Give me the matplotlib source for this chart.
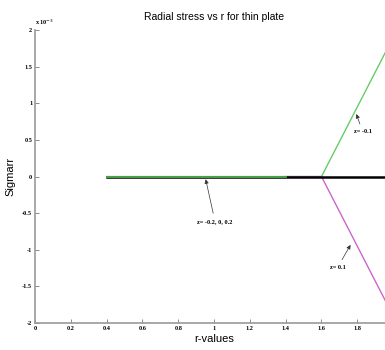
import matplotlib
matplotlib.use('Agg')
import matplotlib.pyplot as plt
from matplotlib.ticker import FuncFormatter

# r grid and radial stress for each z
r = [0.4, 0.8, 1.2, 1.4, 1.6, 1.8, 2.0]
sig_z0 = [0, 0, 0, 0, 0, 0, 0]
sig_zm01 = [0, 0, 0, 0, 0, 0.95e-3, 1.9e-3]
sig_zp01 = [0, 0, 0, 0, 0, -0.95e-3, -1.9e-3]

xticks = [0, 0.2, 0.4, 0.6, 0.8, 1, 1.2, 1.4, 1.6, 1.8]
yticks = [-2e-3, -1.5e-3, -1e-3, -0.5e-3, 0, 0.5e-3, 1e-3, 1.5e-3, 2e-3]

fig = plt.figure(figsize=(3.85, 3.5), dpi=100)
ax = fig.add_axes([0.091, 0.077, 0.93, 0.837])

ax.plot(r, sig_zp01, color='#cc66cc', linewidth=1.0)
ax.plot(r, sig_z0, color='black', linewidth=1.8)
ax.plot(r[:4], sig_zm01[:4], color='#4caf4c', linewidth=1.3)
ax.plot(r[3:], sig_zm01[3:], color='#66cc66', linewidth=1.0, zorder=1)

ax.set_xlim(0, 2)
ax.set_ylim(-2e-3, 2e-3)
ax.set_xticks(xticks)
ax.set_yticks(yticks)
ax.xaxis.set_major_formatter(FuncFormatter(lambda v, p: '%g' % v))
ax.yaxis.set_major_formatter(FuncFormatter(lambda v, p: '%g' % round(v * 1e3, 3)))
ax.text(0.0, 1.012, r'x 10$^{-3}$', transform=ax.transAxes, fontsize=4.5,
        fontweight='bold', family='Liberation Serif', ha='left', va='bottom')

for lab in ax.get_xticklabels() + ax.get_yticklabels():
    lab.set_fontsize(4.5)
    lab.set_fontweight('bold')
    lab.set_family('Liberation Serif')

ax.tick_params(direction='in', length=3, width=0.6, color='#777777', pad=2)
for s in ['top', 'right']:
    ax.spines[s].set_visible(False)
for s in ['left', 'bottom']:
    ax.spines[s].set_color('#999999')
    ax.spines[s].set_linewidth(1.2)

ax.set_title('Radial stress vs r for thin plate', fontsize=7.5, pad=7, family='Liberation Sans')
ax.set_xlabel('r-values', fontsize=8, labelpad=2, family='Liberation Sans')
ax.set_ylabel('Sigmarr', fontsize=8, family='Liberation Sans')
ax.yaxis.set_label_coords(-0.055, 0.5)

akw = dict(arrowstyle='-|>', color='#333333', lw=0.5, mutation_scale=6)
tkw = dict(fontsize=4.5, fontweight='bold', family='Liberation Serif', ha='center', va='center')
ax.annotate('z= -0.2, 0, 0.2', xy=(0.95, 0), xytext=(1.005, -0.61e-3), arrowprops=akw, **tkw)
ax.annotate('z= -0.1', xy=(1.79, 0.89e-3), xytext=(1.83, 0.61e-3), arrowprops=akw, **tkw)
ax.annotate('z= 0.1', xy=(1.77, -0.9e-3), xytext=(1.69, -1.24e-3), arrowprops=akw, **tkw)

plt.savefig('out.png', dpi=100)
